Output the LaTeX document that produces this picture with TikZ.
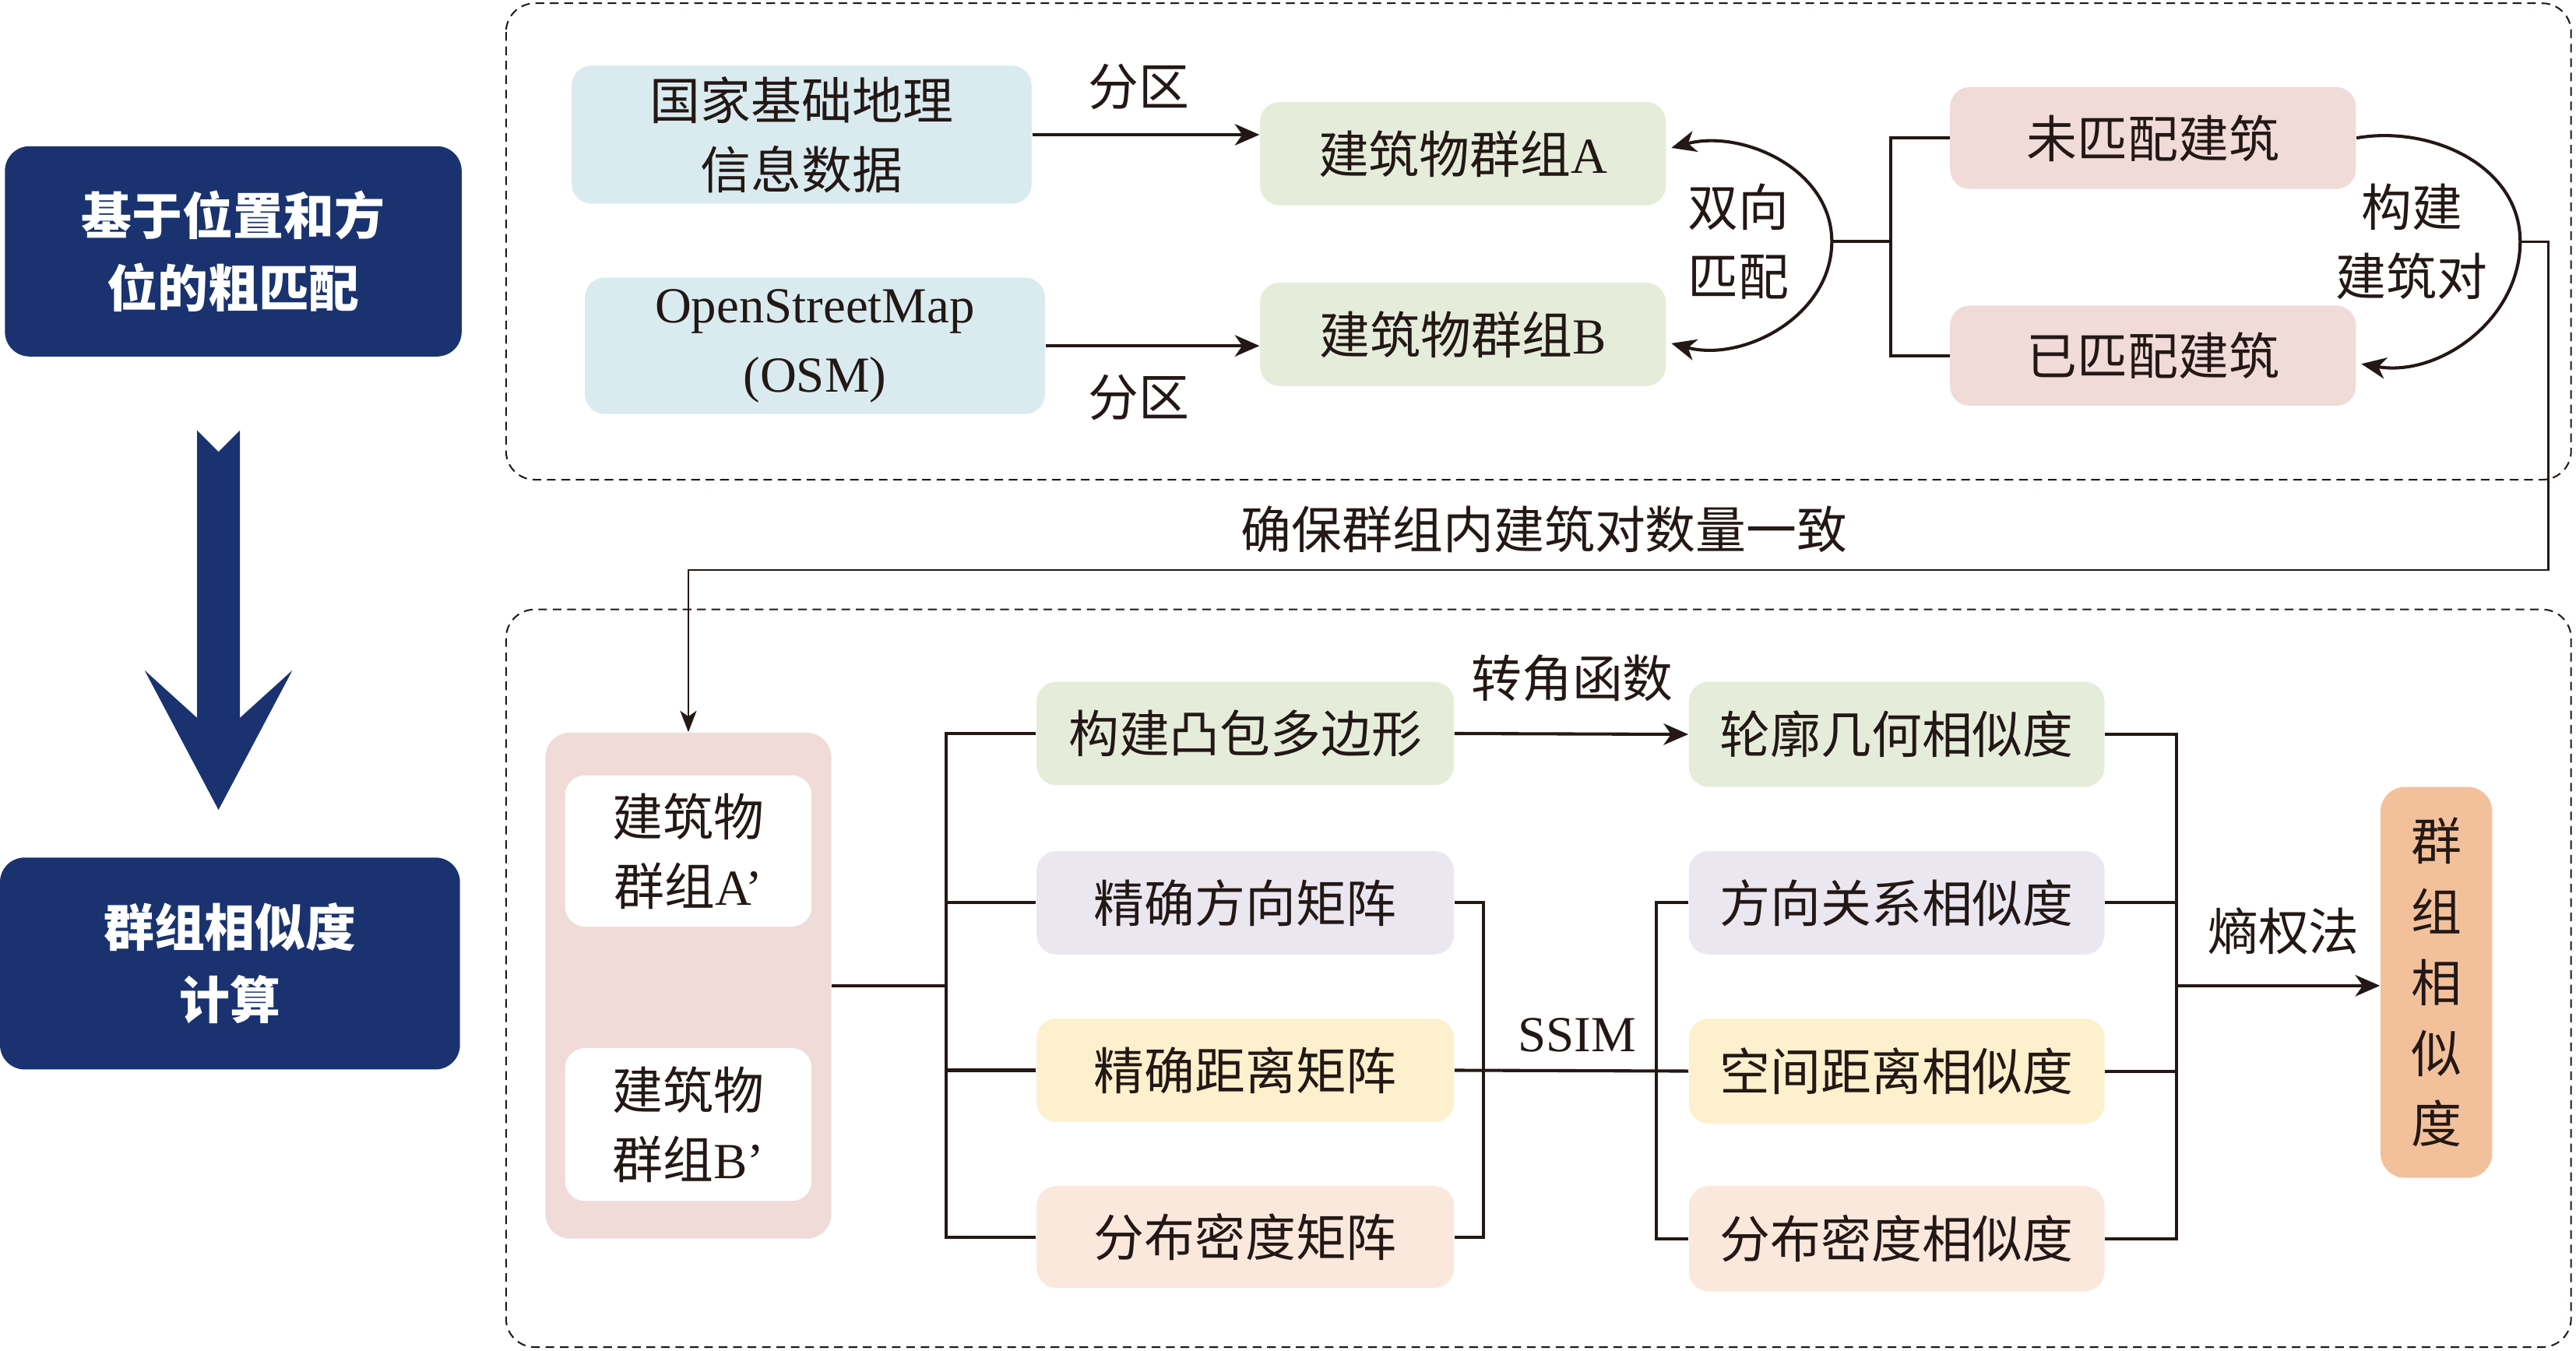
\documentclass[tikz,border=0pt]{standalone}
\usepackage{fontspec}
\setmainfont{Liberation Serif}
\newfontfamily\cjk{Noto Sans CJK SC}
\usetikzlibrary{arrows.meta}
\definecolor{navy}{RGB}{26,51,112}
\definecolor{cblue}{RGB}{218,235,240}
\definecolor{cgreen}{RGB}{229,237,218}
\definecolor{cpink}{RGB}{240,219,217}
\definecolor{clav}{RGB}{235,231,241}
\definecolor{cyel}{RGB}{253,240,204}
\definecolor{cpeach}{RGB}{251,232,221}
\definecolor{corange}{RGB}{242,193,156}
\definecolor{ink}{RGB}{35,24,21}
\newcommand{\zh}[1]{{\cjk #1}}
\begin{document}
\begin{tikzpicture}[x=0.02cm,y=-0.02cm,
  font=\fontsize{17.5}{24}\selectfont,
  box/.style={rounded corners=0.24cm, inner sep=0pt, align=center, text=ink},
  sz/.style 2 args={minimum width=#1*0.02cm, minimum height=#2*0.02cm},
  navybox/.style={box, fill=navy, text=white, rounded corners=0.3cm, font=\fontsize{17.5}{25}\selectfont\cjk\bfseries},
  conn/.style={draw=ink, line width=1.1pt},
  arr/.style={conn, -{Stealth[length=0.3cm,width=0.26cm,inset=0.09cm]}},
  lbl/.style={text=ink, inner sep=0pt},
  dbox/.style={draw=ink, dash pattern=on 3pt off 2pt, line width=0.55pt, rounded corners=0.35cm}
]
\useasboundingbox (0,0) rectangle (1568,822);

% left column
\node[navybox, sz={278}{128}] (n1) at (142,153) {基于位置和方\\位的粗匹配};
\node[navybox, sz={280}{129}] (n2) at (140,586.5) {群组相似度\\计算};
\fill[navy] (120,262) -- (133,275) -- (146,262) -- (146,437) -- (178,408) -- (133,493) -- (88,408) -- (120,437) -- cycle;

% top panel
\draw[dbox] (308,2) rectangle (1565,292);
\node[box, fill=cblue, sz={280}{84}] (gj) at (488,82) {\zh{国家基础地理}\\\zh{信息数据}};
\node[box, fill=cblue, sz={280}{83}] (osm) at (496,210.5) {OpenStreetMap\\(OSM)};
\node[box, fill=cgreen, sz={247}{63}] (ga) at (890.5,93.5) {\zh{建筑物群组}A};
\node[box, fill=cgreen, sz={247}{63}] (gb) at (890.5,203.5) {\zh{建筑物群组}B};
\node[box, fill=cpink, sz={247}{62}] (um) at (1310.5,84) {\zh{未匹配建筑}};
\node[box, fill=cpink, sz={247}{61}] (mm) at (1310.5,216.5) {\zh{已匹配建筑}};

\draw[arr] (gj.east) -- (gj.east -| ga.west);
\draw[arr] (osm.east) -- (osm.east -| gb.west);
\node[lbl] at (693,53) {\zh{分区}};
\node[lbl] at (693,242) {\zh{分区}};

\coordinate (j1) at (1115,147);
\coordinate (j2) at (1151,147);
\draw[arr] (j1) to[out=90,in=15] ([xshift=0.06cm,yshift=0.07cm]ga.east);
\draw[arr] (j1) to[out=-90,in=-15] ([xshift=0.06cm,yshift=-0.11cm]gb.east);
\draw[conn] (j1) -- (j2);
\draw[conn] (um.west) -| (j2) |- (mm.west);
\node[lbl, align=center, font=\fontsize{17.5}{24}\selectfont\cjk] at (1058,147) {双向\\匹配};

\coordinate (cr) at (1534,147);
\draw[arr] (um.east) to[out=10,in=90] (cr) to[out=-90,in=-10] ([xshift=0.06cm,yshift=-0.1cm]mm.east);
\node[lbl, align=center, font=\fontsize{17.5}{24}\selectfont\cjk] at (1468,147) {构建\\建筑对};

% bottom panel
\draw[dbox] (308,371) rectangle (1565,820);
\node[box, fill=cpink, rounded corners=0.3cm, sz={174}{308}] (cont) at (419,600) {};
\node[box, fill=white, sz={150}{92}] (ia) at (419,518) {\zh{建筑物}\\\zh{群组}A’};
\node[box, fill=white, sz={150}{93}] (ib) at (419,684.5) {\zh{建筑物}\\\zh{群组}B’};

\coordinate (c1) at (1551,147);
\coordinate (c2) at (1551,347);
\draw[draw=ink, line width=0.75pt, -{Stealth[length=0.26cm,width=0.2cm,inset=0.07cm]}] (cr) -- (c1) -- (c2) -| (cont.north);
\node[lbl] at (940,322) {\zh{确保群组内建筑对数量一致}};

\node[box, fill=cgreen, sz={254}{63}] (b1) at (758,446.5) {\zh{构建凸包多边形}};
\node[box, fill=clav, sz={254}{63}] (b2) at (758,549.5) {\zh{精确方向矩阵}};
\node[box, fill=cyel, sz={254}{63}] (b3) at (758,651.5) {\zh{精确距离矩阵}};
\node[box, fill=cpeach, sz={254}{62}] (b4) at (758,753) {\zh{分布密度矩阵}};

\node[box, fill=cgreen, sz={253}{64}] (r1) at (1154.5,447) {\zh{轮廓几何相似度}};
\node[box, fill=clav, sz={253}{63}] (r2) at (1154.5,549.5) {\zh{方向关系相似度}};
\node[box, fill=cyel, sz={253}{64}] (r3) at (1154.5,652) {\zh{空间距离相似度}};
\node[box, fill=cpeach, sz={253}{64}] (r4) at (1154.5,754) {\zh{分布密度相似度}};

\node[box, fill=corange, rounded corners=0.3cm, sz={68}{238}, font=\fontsize{17.5}{24.5}\selectfont\cjk] (fin) at (1483,598) {群\\组\\相\\似\\度};

\coordinate (bx) at (576,600);
\draw[conn] (cont.east) -- (bx);
\draw[conn] (b1.west) -| (bx) |- (b4.west);
\draw[conn] (b2.west) -- (b2.west -| bx);
\draw[conn] (b3.west) -- (b3.west -| bx);

\draw[arr] (b1.east) -- (r1.west);
\node[lbl] at (957,413) {\zh{转角函数}};

\coordinate (m1) at (903,651.5);
\draw[conn] (b2.east) -| (m1) |- (b4.east);
\draw[conn] (b3.east) -- (r3.west);
\coordinate (m2) at (1008,652);
\draw[conn] (r2.west) -| (m2) |- (r4.west);
\node[lbl] at (960,630) {SSIM};

\coordinate (m3) at (1325,600);
\draw[conn] (r1.east) -| (m3) |- (r4.east);
\draw[conn] (r2.east) -- (r2.east -| m3);
\draw[conn] (r3.east) -- (r3.east -| m3);
\draw[arr] (m3) -- (m3 -| fin.west);
\node[lbl] at (1390,567) {\zh{熵权法}};
\end{tikzpicture}
\end{document}
